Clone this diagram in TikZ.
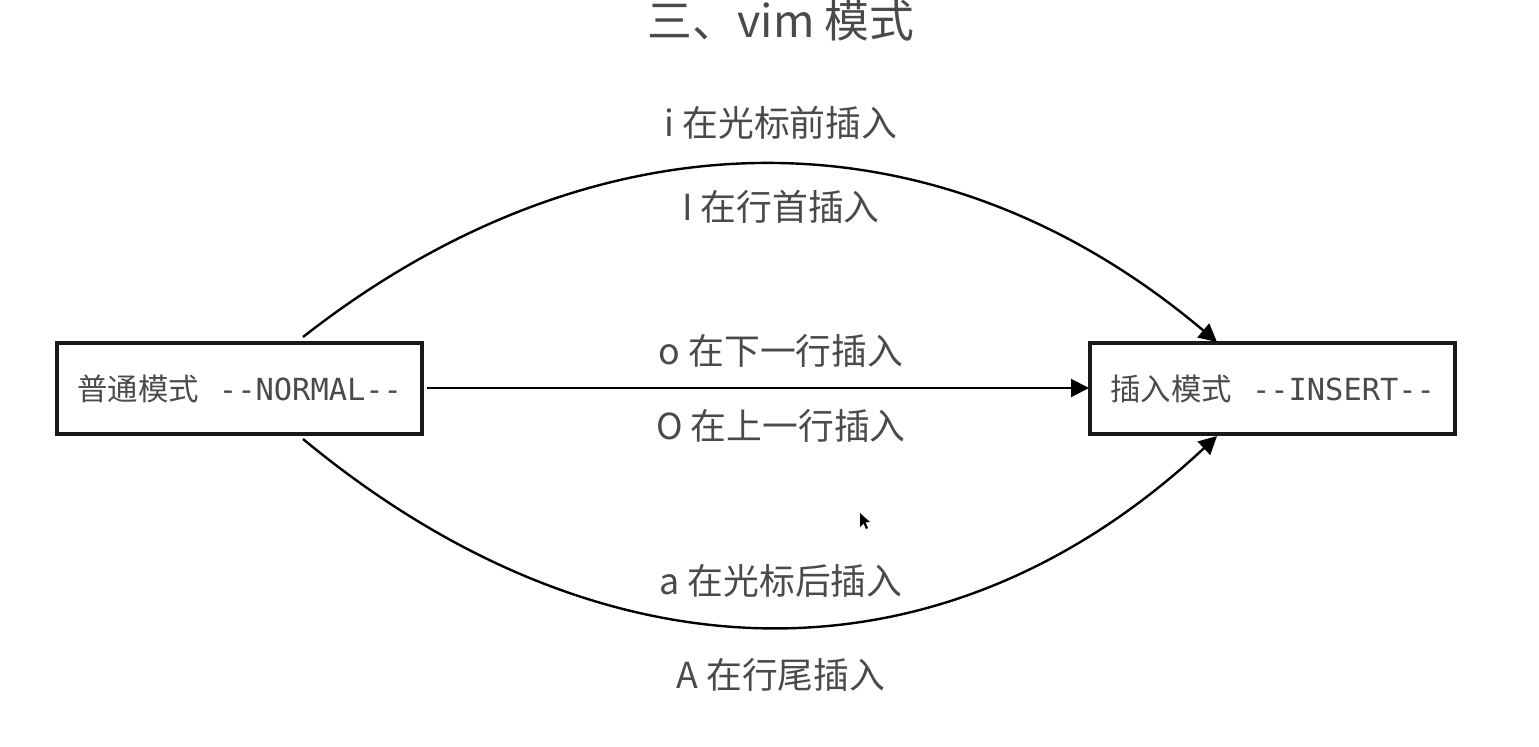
\documentclass[tikz,border=0pt]{standalone}
\usepackage{fontspec}
\newfontfamily\cjk{Noto Sans CJK SC}
\newfontfamily\monof{DejaVu Sans Mono}
\usetikzlibrary{arrows.meta}
\definecolor{txt}{HTML}{4A4A4A}
\begin{document}
\begin{tikzpicture}[x=0.5pt,y=-0.5pt,
  lbl/.style={text=txt,font=\cjk\fontsize{17.9}{20}\selectfont,inner sep=0pt},
  modebox/.style={draw=black!90,line width=1.6pt,minimum width=182.5pt,minimum height=45.5pt,inner sep=0pt},
  boxtxt/.style={text=txt,inner sep=0pt},
  conn/.style={line width=1.2pt,-{Triangle[length=9pt,width=9pt]}},
]
\useasboundingbox (0,0) rectangle (1539,746);
\node[lbl,font=\cjk\fontsize{22.4}{25}\selectfont] (title) at (781,21) {三、vim 模式};

\node[modebox] (normal) at (239.5,388.5) {};
\node[boxtxt,anchor=west] (ntext) at (77,389) {\cjk\fontsize{15.2}{17}\selectfont 普通模式\hspace{10pt}\monof\fontsize{15.2}{17}\selectfont{-}{-}NORMAL{-}{-}};
\node[modebox] (insert) at (1272.5,388.5) {};
\node[boxtxt,anchor=west] (itext) at (1110,389) {\cjk\fontsize{15.2}{17}\selectfont 插入模式\hspace{10pt}\monof\fontsize{15.2}{17}\selectfont{-}{-}INSERT{-}{-}};

\node[lbl] (l1) at (781,123) {i 在光标前插入};
\node[lbl] (l2) at (781,207) {I 在行首插入};
\node[lbl] (l3) at (781,351) {o 在下一行插入};
\node[lbl] (l4) at (781,426) {O 在上一行插入};
\node[lbl] (l5) at (781,581) {a 在光标后插入};
\node[lbl] (l6) at (781,675) {A 在行尾插入};

\coordinate (us) at (303,337);
\coordinate (ue) at (1217,342);
\coordinate (ds) at (303,439);
\coordinate (de) at (1217,436);
\coordinate (ms) at (427,388);
\coordinate (me) at (1089,388);

\draw[conn] (us) .. controls (590,112) and (930,100) .. (ue);
\draw[conn] (ds) .. controls (600,685) and (940,695) .. (de);
\draw[conn,line width=1pt] (ms) -- (me);

% mouse cursor
\fill[black] (860,513) -- (860,527) -- (863.5,523.5) -- (866,529) -- (868,528) -- (865.5,522.5) -- (870,522) -- cycle;
\end{tikzpicture}
\end{document}
